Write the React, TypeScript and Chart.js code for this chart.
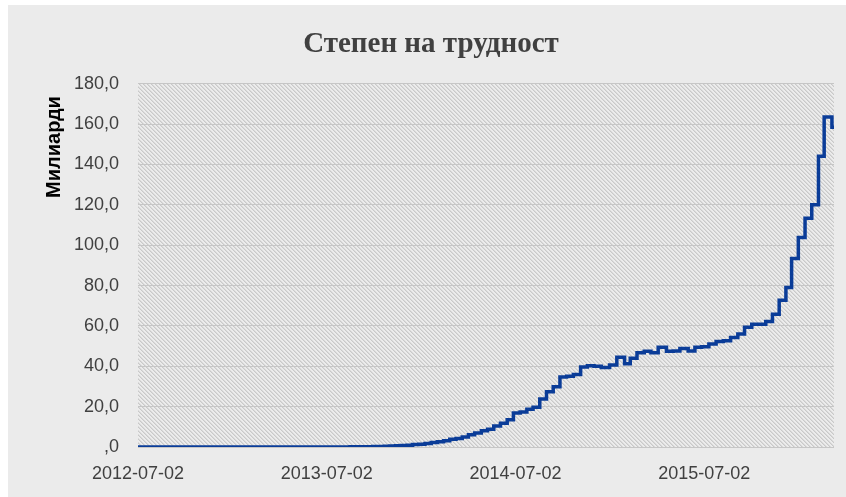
import React, { useEffect, useRef } from 'react';
import { Chart, registerables } from 'chart.js';

Chart.register(...registerables);

const START_DATE = '2012-07-02';
const END_DATE = '2016-03-09';

// Dates on which the difficulty changed, and the new value (billions)
const changeDates = [
  '2012-07-02', '2012-07-24', '2012-08-09', '2012-08-24', '2012-09-07', '2012-09-23',
  '2012-10-08', '2012-10-23', '2012-11-08', '2012-12-10', '2012-12-27', '2013-01-26',
  '2013-02-08', '2013-02-21', '2013-03-06', '2013-03-20', '2013-04-02', '2013-04-14',
  '2013-04-26', '2013-05-09', '2013-05-21', '2013-06-03', '2013-06-16', '2013-06-29',
  '2013-07-12', '2013-07-24', '2013-08-05', '2013-08-16', '2013-08-27', '2013-09-07',
  '2013-09-18', '2013-09-29', '2013-10-10', '2013-10-21', '2013-11-01', '2013-11-12',
  '2013-11-23', '2013-12-04', '2013-12-15', '2013-12-27', '2014-01-08', '2014-01-20',
  '2014-02-01', '2014-02-13', '2014-02-25', '2014-03-09', '2014-03-21', '2014-04-02',
  '2014-04-14', '2014-04-27', '2014-05-09', '2014-05-21', '2014-06-03', '2014-06-16',
  '2014-06-28', '2014-07-11', '2014-07-24', '2014-08-05', '2014-08-18', '2014-08-31',
  '2014-09-13', '2014-09-26', '2014-10-09', '2014-10-22', '2014-11-05', '2014-11-18',
  '2014-12-01', '2014-12-15', '2014-12-31', '2015-01-14', '2015-01-29', '2015-02-09',
  '2015-02-22', '2015-03-08', '2015-03-21', '2015-04-04', '2015-04-20', '2015-05-03',
  '2015-05-16', '2015-06-01', '2015-06-14', '2015-06-27', '2015-07-11', '2015-07-25',
  '2015-08-08', '2015-08-22', '2015-09-05', '2015-09-18', '2015-10-02', '2015-10-29',
  '2015-11-11', '2015-11-24', '2015-12-07', '2015-12-18', '2015-12-31', '2016-01-13',
  '2016-01-26', '2016-02-08', '2016-02-19', '2016-03-05', '2016-03-09',
];

const difficulty = [
  0.00186, 0.00209, 0.00217, 0.00244, 0.00269, 0.00295,
  0.003, 0.00343, 0.00344, 0.00344, 0.00325, 0.00365,
  0.00435, 0.00485, 0.00612, 0.00676, 0.00761, 0.0086,
  0.01018, 0.01118, 0.0115, 0.01558, 0.01931, 0.02614,
  0.03174, 0.0372, 0.0505, 0.0659, 0.0868, 0.1127,
  0.1485, 0.1896, 0.2676, 0.3904, 0.5108, 0.6095,
  0.7074, 0.9083, 1.1808, 1.4181, 1.7892, 2.1939,
  2.622, 3.1293, 3.8152, 4.2509, 5.0063, 6.1197,
  6.9788, 8.0008, 8.8532, 10.4557, 11.757, 13.4621,
  16.8183, 17.3367, 18.7364, 19.7294, 23.8447, 27.4283,
  29.829, 34.6612, 35.0023, 35.9854, 39.6034, 40.3009,
  40.0079, 39.4573, 40.6404, 44.4554, 41.2724, 43.9713,
  46.6843, 47.427, 46.6843, 49.4023, 47.427, 47.5898,
  48.8078, 47.5898, 49.4023, 49.6923, 51.0766, 52.2782,
  52.6995, 54.2564, 56.0281, 59.3353, 60.8833, 62.2536,
  65.8485, 72.7225, 79.1022, 93.4481, 103.8801, 113.3546,
  120.0333, 144.1162, 163.4917, 158.4272, 158.4272,
];

const xTickDates = ['2012-07-02', '2013-07-02', '2014-07-02', '2015-07-02'];
const yTickValues = [0, 20, 40, 60, 80, 100, 120, 140, 160, 180];

const TITLE = 'Степен на трудност';
const Y_TITLE = 'Милиарди';

const DAY_MS = 86400000;
const toUTC = (s: string) => {
  const [y, m, d] = s.split('-').map(Number);
  return Date.UTC(y, m - 1, d);
};
const startMs = toUTC(START_DATE);
const dayOf = (s: string) => Math.round((toUTC(s) - startMs) / DAY_MS);
const fmtDay = (n: number) => new Date(startMs + n * DAY_MS).toISOString().slice(0, 10);
const fmtY = (v: number) => v.toFixed(1).replace('.', ',').replace(/^0/, '');

function makePattern(): CanvasPattern | string {
  const c = document.createElement('canvas');
  c.width = 4;
  c.height = 4;
  const g = c.getContext('2d');
  if (!g) return '#dcdcdc';
  for (let y = 0; y < 4; y++) {
    for (let x = 0; x < 4; x++) {
      const k = (x - y + 8) % 4;
      g.fillStyle = k === 0 ? '#c9c9c9' : k === 1 ? '#dadada' : '#ececec';
      g.fillRect(x, y, 1, 1);
    }
  }
  return g.createPattern(c, 'repeat') || '#dcdcdc';
}

export default function App() {
  const ref = useRef<HTMLCanvasElement | null>(null);

  useEffect(() => {
    if (!ref.current) return;
    const pattern = makePattern();

    const hatchPlugin = {
      id: 'hatch',
      beforeDraw(chart: any) {
        const { ctx, chartArea } = chart;
        ctx.save();
        ctx.fillStyle = pattern;
        ctx.fillRect(chartArea.left, chartArea.top, chartArea.right - chartArea.left, chartArea.bottom - chartArea.top);
        ctx.restore();
      },
    };

    const yTitlePlugin = {
      id: 'ytitle',
      afterDraw(chart: any) {
        const { ctx } = chart;
        ctx.save();
        ctx.translate(46, 142);
        ctx.rotate(-Math.PI / 2);
        ctx.textAlign = 'center';
        ctx.textBaseline = 'middle';
        ctx.font = 'bold 20px "Liberation Sans", Arial, sans-serif';
        ctx.fillStyle = '#000000';
        ctx.fillText(Y_TITLE, 0, 0);
        ctx.restore();
      },
    };

    const points = changeDates.map((d, i) => ({ x: dayOf(d), y: difficulty[i] }));
    const tickFont = { family: '"Liberation Sans", Arial, sans-serif', size: 18 };

    const chart = new Chart(ref.current, {
      type: 'line',
      data: {
        datasets: [
          {
            data: points,
            stepped: 'before',
            borderColor: '#0a3c98',
            borderWidth: 3.5,
            pointRadius: 0,
            fill: false,
          },
        ],
      },
      options: {
        animation: false,
        responsive: true,
        maintainAspectRatio: false,
        layout: { padding: { left: 20, right: 12, top: 0, bottom: 0 } },
        plugins: {
          legend: { display: false },
          tooltip: { enabled: false },
          title: {
            display: true,
            text: TITLE,
            color: '#404040',
            font: { family: '"Liberation Serif", serif', size: 29, weight: 'bold' },
            padding: { top: 22, bottom: 22 },
          },
        },
        scales: {
          x: {
            type: 'linear',
            min: 0,
            max: dayOf(END_DATE),
            afterBuildTicks: (s: any) => {
              s.ticks = xTickDates.map((d) => ({ value: dayOf(d) }));
            },
            afterFit: (s: any) => {
              s.height = 50;
            },
            ticks: {
              callback: (v: any) => fmtDay(Number(v)),
              color: '#404040',
              font: tickFont,
              padding: 8,
              maxRotation: 0,
              autoSkip: false,
            },
            grid: { display: false },
            border: { display: false },
          },
          y: {
            min: 0,
            max: 180,
            afterBuildTicks: (s: any) => {
              s.ticks = yTickValues.map((v) => ({ value: v }));
            },
            afterFit: (s: any) => {
              s.width = 110;
            },
            ticks: {
              callback: (v: any) => fmtY(Number(v)),
              color: '#404040',
              font: tickFont,
              padding: 19,
            },
            grid: { color: '#c6c6c6', drawTicks: false, lineWidth: 1 },
            border: { display: false },
          },
        },
      },
      plugins: [hatchPlugin, yTitlePlugin],
    } as any);

    return () => chart.destroy();
  }, []);

  return (
    <div
      style={{
        position: 'absolute',
        left: 8,
        top: 5,
        width: 838,
        height: 492,
        background: '#ebebeb',
      }}
    >
      <canvas ref={ref} />
    </div>
  );
}
